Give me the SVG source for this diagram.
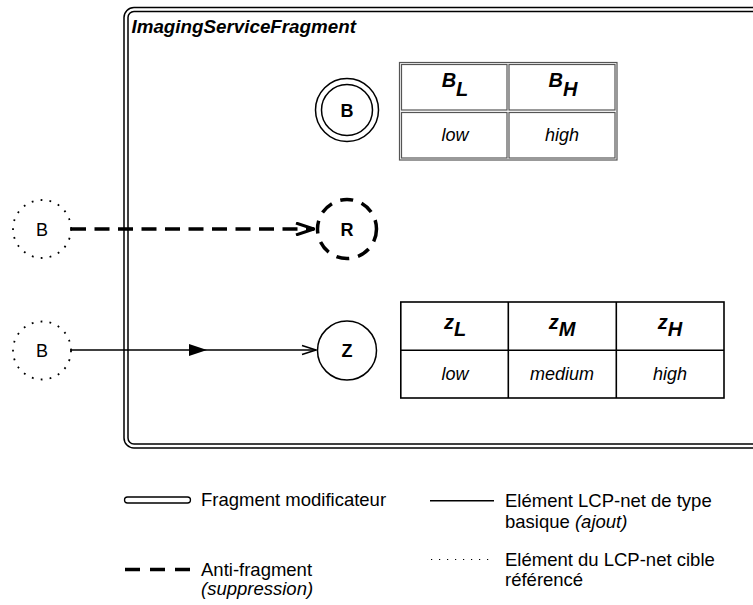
<svg xmlns="http://www.w3.org/2000/svg" width="753" height="605" viewBox="0 0 753 605">
<style>
  text { font-family: "Liberation Sans", Arial, Helvetica, sans-serif; fill: #000; }
  .lbl { font-size: 18px; text-anchor: middle; }
  .bold { font-weight: bold; }
  .it { font-style: italic; }
  .hdr { font-size: 20px; font-weight: bold; font-style: italic; text-anchor: middle; }
  .cell { font-size: 18px; font-style: italic; text-anchor: middle; }
  .leg { font-size: 18.5px; }
  .frame { fill: none; stroke: #000; stroke-width: 1.5; }
  .dotted { fill: none; stroke: #000; stroke-width: 1.8; stroke-dasharray: 1.8 7.2; }
  .solid { fill: none; stroke: #000; stroke-width: 1.5; }
  .dashed { fill: none; stroke: #000; stroke-width: 3.5; stroke-dasharray: 15 8.5; }
  .tb2 { fill: none; stroke: #555; stroke-width: 1.2; }
  .tb1 { fill: none; stroke: #000; stroke-width: 1.6; }
</style>
<defs>
  <marker id="openThick" markerUnits="userSpaceOnUse" viewBox="0 0 20 14" refX="19" refY="7" markerWidth="20" markerHeight="14" orient="auto">
    <path d="M1,1 L19,7 L1,13" fill="none" stroke="#000" stroke-width="3"/>
  </marker>
  <marker id="openThin" markerUnits="userSpaceOnUse" viewBox="0 0 16 12" refX="15" refY="6" markerWidth="16" markerHeight="12" orient="auto">
    <path d="M1,1.5 L15,6 L1,10.5" fill="none" stroke="#000" stroke-width="1.5"/>
  </marker>
  <marker id="midFill" markerUnits="userSpaceOnUse" viewBox="0 0 18 12" refX="9" refY="6" markerWidth="18" markerHeight="12" orient="auto">
    <path d="M0,0 L18,6 L0,12 Z" fill="#000"/>
  </marker>
</defs>

<g id="fragment">
  <rect class="frame" x="124" y="7.5" width="700" height="440.5" rx="10"/>
  <rect class="frame" x="128" y="11.5" width="700" height="432.5" rx="6"/>
  <text x="131.5" y="33" style="font-size:18.8px;font-weight:bold;font-style:italic">ImagingServiceFragment</text>
</g>

<g id="connectors">
  <line class="dashed" x1="71" y1="229" x2="314" y2="229" marker-end="url(#openThick)"/>
  <polyline class="solid" points="71,350 198,350 316,350" marker-mid="url(#midFill)" marker-end="url(#openThin)"/>
</g>

<g id="node-B-ref1">
  <circle class="dotted" cx="42" cy="229" r="29"/>
  <text class="lbl" x="42" y="235.5">B</text>
</g>

<g id="node-B-ref2">
  <circle class="dotted" cx="42" cy="350.5" r="29"/>
  <text class="lbl" x="42" y="357">B</text>
</g>

<g id="node-B">
  <circle class="solid" cx="347" cy="110" r="31.5"/>
  <circle class="solid" cx="347" cy="110" r="25.5"/>
  <text class="lbl bold" x="347" y="116.5">B</text>
</g>

<g id="node-R">
  <circle cx="347" cy="229" r="29.5" fill="none" stroke="#000" stroke-width="3.5" stroke-dasharray="13 9"/>
  <text class="lbl bold" x="347" y="235.5">R</text>
</g>

<g id="node-Z">
  <circle class="solid" cx="347" cy="350.5" r="29.5"/>
  <text class="lbl bold" x="347" y="357">Z</text>
</g>

<g id="table-B">
  <rect class="tb2" x="399.5" y="62.5" width="217.5" height="97.5"/>
  <rect class="tb2" x="401.5" y="64.5" width="105.5" height="45.5"/>
  <rect class="tb2" x="509" y="64.5" width="106" height="45.5"/>
  <rect class="tb2" x="401.5" y="112.5" width="105.5" height="45.5"/>
  <rect class="tb2" x="509" y="112.5" width="106" height="45.5"/>
  <text class="hdr" x="455" y="87">B<tspan dy="9">L</tspan></text>
  <text class="hdr" x="563" y="87">B<tspan dy="9">H</tspan></text>
  <text class="cell" x="455" y="141">low</text>
  <text class="cell" x="562" y="141">high</text>
</g>

<g id="table-Z">
  <rect class="tb1" x="400.8" y="302" width="323.2" height="96"/>
  <line class="tb1" x1="400.8" y1="350.3" x2="724" y2="350.3"/>
  <line class="tb1" x1="508.3" y1="302" x2="508.3" y2="398"/>
  <line class="tb1" x1="616.3" y1="302" x2="616.3" y2="398"/>
  <text class="hdr" x="455" y="329">z<tspan dy="7">L</tspan></text>
  <text class="hdr" x="562" y="329">z<tspan dy="7">M</tspan></text>
  <text class="hdr" x="670" y="329">z<tspan dy="7">H</tspan></text>
  <text class="cell" x="455" y="380">low</text>
  <text class="cell" x="562" y="380">medium</text>
  <text class="cell" x="670" y="380">high</text>
</g>

<g id="legend">
  <rect x="124.5" y="497" width="66" height="6" rx="3" fill="none" stroke="#000" stroke-width="1.3"/>
  <text class="leg" x="201" y="506">Fragment modificateur</text>

  <line x1="125" y1="569.5" x2="190" y2="569.5" stroke="#000" stroke-width="3.5" stroke-dasharray="15 10"/>
  <text class="leg" x="201" y="576">Anti-fragment</text>
  <text class="leg it" x="201" y="595">(suppression)</text>

  <line class="solid" x1="430" y1="500.7" x2="494" y2="500.7"/>
  <text class="leg" x="505" y="506.5">Elément LCP-net de type</text>
  <text class="leg" x="505" y="527.5">basique <tspan class="it">(ajout)</tspan></text>

  <line x1="431" y1="559.5" x2="494" y2="559.5" stroke="#000" stroke-width="1.2" stroke-dasharray="1.2 6.8"/>
  <text class="leg" x="505" y="566">Elément du LCP-net cible</text>
  <text class="leg" x="505" y="586">référencé</text>
</g>
</svg>
